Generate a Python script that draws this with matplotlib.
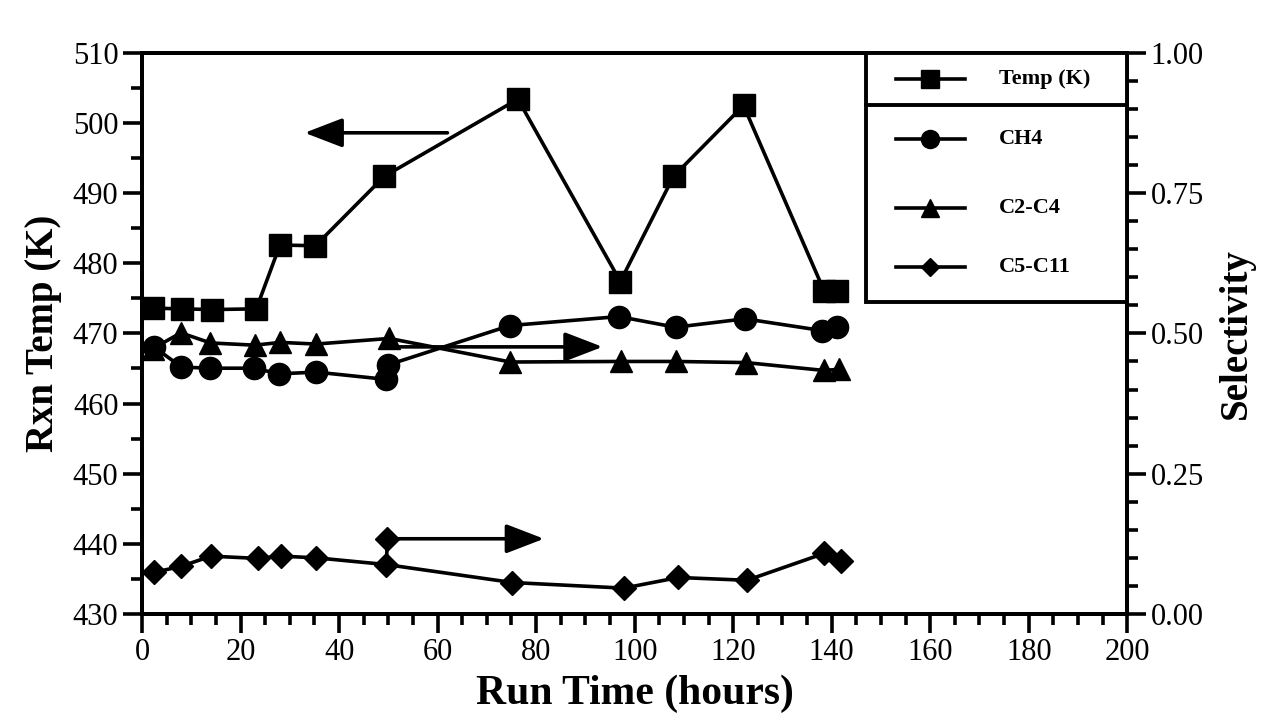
import matplotlib
matplotlib.use("Agg")
import matplotlib.pyplot as plt
from matplotlib.lines import Line2D
from matplotlib.patches import Rectangle
from matplotlib.ticker import MultipleLocator, FormatStrFormatter

plt.rcParams["font.family"] = ["Liberation Serif", "DejaVu Serif"]

# reactor temperature (left axis)
temp_hours = [2.3, 8.1, 14.2, 23.2, 28.0, 35.2, 49.2, 76.3, 97.1, 107.9, 122.1, 138.5, 141.0]
temp_k = [473.6, 473.5, 473.4, 473.5, 482.6, 482.5, 492.4, 503.4, 477.4, 492.4, 502.5, 476.0, 476.0]

# product selectivities (right axis)
ch4_hours = [2.4, 8.0, 13.7, 22.7, 27.9, 35.4, 49.6, 50.0, 74.7, 96.8, 108.3, 122.4, 138.1, 141.1]
ch4_sel = [0.476, 0.440, 0.438, 0.438, 0.428, 0.431, 0.418, 0.444, 0.514, 0.530, 0.511, 0.526, 0.505, 0.511]

c2c4_hours = [2.2, 7.9, 13.9, 22.9, 28.1, 35.3, 50.2, 74.8, 97.2, 108.4, 122.6, 138.4, 141.5]
c2c4_sel = [0.473, 0.501, 0.483, 0.479, 0.484, 0.481, 0.491, 0.449, 0.450, 0.450, 0.448, 0.434, 0.436]

c5c11_hours = [2.4, 8.0, 14.0, 23.5, 28.3, 35.4, 49.6, 75.2, 97.8, 108.9, 122.8, 138.5, 141.9]
c5c11_sel = [0.074, 0.085, 0.103, 0.099, 0.103, 0.100, 0.088, 0.056, 0.046, 0.065, 0.060, 0.108, 0.095]

# extra C5-C11 point that the lower arrow starts from
c5c11_extra = (49.8, 0.134)

# arrows pointing each group of curves to its axis: (x_from, x_to, y)
temp_arrow = (62.0, 33.0, 498.6)
sel_arrows = [(50.0, 93.5, 0.476), (c5c11_extra[0], 81.6, c5c11_extra[1])]

LW = 2.6
SPINE_LW = 2.8

fig = plt.figure(figsize=(12.68, 7.24), dpi=100)
ax = fig.add_axes([0.112, 0.152, 0.777, 0.775])
ax2 = ax.twinx()

ax.plot(temp_hours, temp_k, color="black", lw=LW, marker="s", ms=16, zorder=3)
ax2.plot(ch4_hours, ch4_sel, color="black", lw=LW, marker="o", ms=16, zorder=3)
ax2.plot(c2c4_hours, c2c4_sel, color="black", lw=LW, marker="^", ms=16, zorder=3)
ax2.plot(c5c11_hours, c5c11_sel, color="black", lw=LW, marker="D", ms=12, zorder=3)
ax2.plot([c5c11_extra[0], c5c11_hours[6]], [c5c11_extra[1], c5c11_sel[6]],
         color="black", lw=LW, marker="D", ms=12, markevery=[0], zorder=3)

arrow_props = dict(arrowstyle="-|>,head_length=1.3,head_width=0.5",
                   color="black", lw=LW, mutation_scale=18, shrinkA=0, shrinkB=0)
x0, x1, y = temp_arrow
ax.annotate("", xy=(x1, y), xytext=(x0, y), arrowprops=arrow_props)
for x0, x1, y in sel_arrows:
    ax2.annotate("", xy=(x1, y), xytext=(x0, y), arrowprops=arrow_props)

ax.set_xlim(0, 200)
ax.set_ylim(430, 510)
ax2.set_ylim(0, 1)

ax.xaxis.set_major_locator(MultipleLocator(20))
ax.xaxis.set_minor_locator(MultipleLocator(5))
ax.yaxis.set_major_locator(MultipleLocator(10))
ax.yaxis.set_minor_locator(MultipleLocator(5))
ax2.yaxis.set_major_locator(MultipleLocator(0.25))
ax2.yaxis.set_minor_locator(MultipleLocator(0.05))
ax2.yaxis.set_major_formatter(FormatStrFormatter("%.2f"))

for a in (ax, ax2):
    for sp in a.spines.values():
        sp.set_linewidth(SPINE_LW)
    a.tick_params(which="major", direction="out", length=14, width=2.6,
                  labelsize=22, pad=3)
    a.tick_params(which="minor", direction="out", length=8, width=2.6)
ax.tick_params(axis="x", which="both", top=False)

ax.set_xlabel("Run Time (hours)", fontsize=30, fontweight="bold", labelpad=6)
ax.set_ylabel("Rxn Temp (K)", fontsize=28, fontweight="bold", labelpad=8)
ax2.set_ylabel("Selectivity", fontsize=28, fontweight="bold", labelpad=10)

# boxed legend in the upper right corner, temperature entry split off by a rule
box_left, box_bottom, rule_y = 0.735, 0.556, 0.9075
ax2.add_patch(Rectangle((box_left, box_bottom), 1 - box_left, 1 - box_bottom,
                        transform=ax2.transAxes, facecolor="white",
                        edgecolor="black", lw=SPINE_LW, zorder=5))
ax2.add_line(Line2D([box_left, 1], [rule_y, rule_y], transform=ax2.transAxes,
                    color="black", lw=SPINE_LW, zorder=6))

legend_rows = [
    ("Temp (K)", "s", 13, 0.954),
    ("CH4", "o", 13, 0.847),
    ("C2-C4", "^", 13, 0.724),
    ("C5-C11", "D", 9, 0.618),
]
for label, marker, size, ypos in legend_rows:
    ax2.add_line(Line2D([0.765, 0.800, 0.835], [ypos] * 3, transform=ax2.transAxes,
                        color="black", lw=LW, marker=marker, ms=size,
                        markevery=[1], zorder=7))
    ax2.text(0.87, ypos, label, transform=ax2.transAxes, fontsize=16,
             fontweight="bold", va="center", ha="left", zorder=7)

fig.savefig("out.png", dpi=100, facecolor="white")
